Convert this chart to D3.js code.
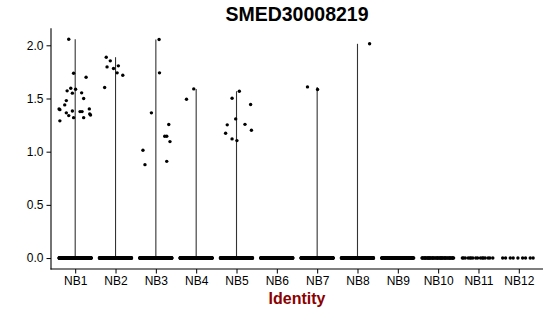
<!DOCTYPE html>
<html>
<head>
<meta charset="utf-8">
<script src="https://cdn.jsdelivr.net/npm/d3@7"></script>
<style>
  body { margin: 0; background: #fff; }
  text { font-family: "Liberation Sans", Arial, sans-serif; }
</style>
</head>
<body>
<svg id="chart"></svg>
<script>
// Chart data
const title = 'SMED30008219';
const xLabel = 'Identity';
const categories = ['NB1', 'NB2', 'NB3', 'NB4', 'NB5', 'NB6', 'NB7', 'NB8', 'NB9', 'NB10', 'NB11', 'NB12'];
const yTicks = [0, 0.5, 1, 1.5, 2];

// expression values of the non-zero cells, per identity
const valuesNB1 = [2.057, 1.737, 1.70, 1.596, 1.572, 1.587, 1.55, 1.553, 1.50, 1.48, 1.44, 1.402,
  1.395, 1.365, 1.339, 1.383, 1.32, 1.377, 1.377, 1.32, 1.402, 1.355, 1.345, 1.29];
const valuesNB2 = [1.888, 1.854, 1.797, 1.782, 1.807, 1.741, 1.719, 1.603];
const valuesNB3 = [2.055, 1.741, 1.365, 1.255, 1.145, 1.145, 1.095, 1.013, 0.878, 0.909];
const valuesNB4 = [1.493, 1.59];
const valuesNB5 = [1.568, 1.502, 1.443, 1.308, 1.252, 1.257, 1.173, 1.201, 1.12, 1.104];
const valuesNB6 = [];
const valuesNB7 = [1.609, 1.584];
const valuesNB8 = [2.014];
const valuesNB9 = [];
const valuesNB10 = [];
const valuesNB11 = [];
const valuesNB12 = [];

// jitter of those cells, in category widths
const jitterNB1 = [-0.16, -0.04, 0.27, -0.11, -0.20, 0.01, -0.07, 0.16, 0.21, -0.22, -0.26, -0.40,
  -0.38, -0.22, -0.16, -0.07, -0.04, 0.12, 0.17, 0.21, 0.35, 0.36, 0.38, -0.38];
const jitterNB2 = [-0.23, -0.13, -0.21, -0.05, 0.07, 0.04, 0.18, -0.27];
const jitterNB3 = [0.08, 0.09, -0.11, 0.32, 0.22, 0.27, 0.35, -0.32, -0.27, 0.27];
const jitterNB4 = [-0.24, -0.06];
const jitterNB5 = [0.07, -0.11, 0.35, -0.02, -0.23, 0.21, -0.27, 0.37, -0.11, 0.01];
const jitterNB6 = [];
const jitterNB7 = [-0.24, 0.01];
const jitterNB8 = [0.30];
const jitterNB9 = [];
const jitterNB10 = [];
const jitterNB11 = [];
const jitterNB12 = [];

// number of cells with zero expression, per identity
const zeroCounts = [220, 220, 220, 220, 220, 180, 200, 200, 90, 45, 16, 9];

const values = [valuesNB1, valuesNB2, valuesNB3, valuesNB4, valuesNB5, valuesNB6,
  valuesNB7, valuesNB8, valuesNB9, valuesNB10, valuesNB11, valuesNB12];
const jitters = [jitterNB1, jitterNB2, jitterNB3, jitterNB4, jitterNB5, jitterNB6,
  jitterNB7, jitterNB8, jitterNB9, jitterNB10, jitterNB11, jitterNB12];

const width = 550;
const height = 316;
const margin = { top: 28.3, right: 7, bottom: 47, left: 51 };

const svg = d3.select('#chart')
  .attr('width', width)
  .attr('height', height)
  .style('background', '#fff');

const x = d3.scalePoint()
  .domain(categories)
  .range([margin.left, width - margin.right])
  .padding(0.6);
const step = x.step();

const yMax = d3.max(values.flat());
const pad = yMax * 0.05;
const y = d3.scaleLinear()
  .domain([-pad, yMax + pad])
  .range([height - margin.bottom, margin.top]);

// build cells: non-zero ones + zero ones spread across the jitter width
const cells = [];
categories.forEach((cat, i) => {
  values[i].forEach((v, j) => cells.push({ cat, value: v, jit: jitters[i][j] }));
  const n = zeroCounts[i];
  for (let k = 0; k < n; k++) {
    // spread zeros over +-0.4 of the category width
    const jit = n > 1 ? -0.4 + 0.8 * ((k * 0.618034) % 1) : 0;
    cells.push({ cat, value: 0, jit });
  }
});

// Violins collapse to a line from 0 to the max value
const violins = categories
  .map((cat, i) => ({ cat, max: values[i].length ? d3.max(values[i]) : 0 }))
  .filter(d => d.max > 0);

svg.selectAll('.violin')
  .data(violins)
  .enter()
  .append('line')
  .attr('class', 'violin')
  .attr('x1', d => x(d.cat))
  .attr('x2', d => x(d.cat))
  .attr('y1', y(0))
  .attr('y2', d => y(d.max))
  .attr('stroke', '#333')
  .attr('stroke-width', 1.1);

svg.selectAll('.cell')
  .data(cells)
  .enter()
  .append('circle')
  .attr('class', 'cell')
  .attr('cx', d => x(d.cat) + d.jit * step)
  .attr('cy', d => y(d.value))
  .attr('r', 1.7)
  .attr('fill', '#000');

// Axes
const yAxis = svg.append('g')
  .attr('transform', `translate(${margin.left},0)`)
  .call(d3.axisLeft(y).tickValues(yTicks).tickFormat(d3.format('.1f')).tickSize(4.5).tickPadding(3));

const xAxis = svg.append('g')
  .attr('transform', `translate(0,${height - margin.bottom})`)
  .call(d3.axisBottom(x).tickSize(4.5).tickPadding(2.5));

[xAxis, yAxis].forEach(g => {
  g.select('.domain').remove();
  g.selectAll('line').attr('stroke', '#000');
  g.selectAll('text')
    .attr('fill', '#000')
    .style('font-size', '12px')
    .style('font-family', '"Liberation Sans", Arial, sans-serif');
});

// axis lines
svg.append('line')
  .attr('x1', margin.left).attr('x2', margin.left)
  .attr('y1', margin.top).attr('y2', height - margin.bottom + 0.5)
  .attr('stroke', '#000').attr('stroke-width', 1.1);
svg.append('line')
  .attr('x1', margin.left - 0.5).attr('x2', width - margin.right)
  .attr('y1', height - margin.bottom).attr('y2', height - margin.bottom)
  .attr('stroke', '#000').attr('stroke-width', 1.1);

// Title and axis label
const panelMid = (margin.left + width - margin.right) / 2;
svg.append('text')
  .attr('x', panelMid)
  .attr('y', 21)
  .attr('text-anchor', 'middle')
  .style('font-size', '19.5px')
  .style('font-weight', 'bold')
  .text(title);

svg.append('text')
  .attr('x', panelMid)
  .attr('y', 304)
  .attr('text-anchor', 'middle')
  .attr('fill', '#8b0000')
  .style('font-size', '16px')
  .style('font-weight', 'bold')
  .text(xLabel);
</script>
</body>
</html>
